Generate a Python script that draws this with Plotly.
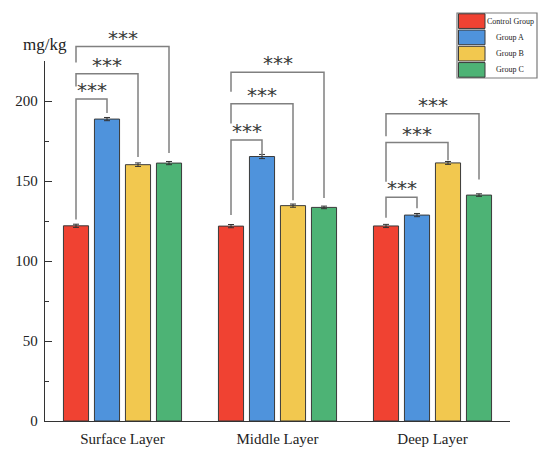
import plotly.graph_objects as go

# ---- data ----
layers = ["Surface Layer", "Middle Layer", "Deep Layer"]
groups = ["Control Group", "Group A", "Group B", "Group C"]
control = [122.0, 121.8, 121.9]
group_a = [188.7, 165.3, 128.7]
group_b = [160.2, 134.6, 161.3]
group_c = [161.2, 133.5, 141.2]
err_control = [1.0, 1.0, 1.0]
err_a = [1.0, 1.3, 1.0]
err_b = [1.1, 1.0, 0.9]
err_c = [1.0, 0.8, 0.8]
sig_labels = ["***", "***", "***"]

# bracket geometry (data units): [top, left-leg bottom, right-leg bottom] per comparison
brackets = {
    0: [(201.3, 126.0, 192.5), (217.0, 209.0, 165.0), (234.0, 224.0, 167.5)],
    1: [(175.6, 128.8, 166.0), (198.3, 186.0, 138.0), (217.9, 205.8, 139.4)],
    2: [(139.8, 127.0, 133.0), (174.0, 149.5, 163.0), (192.0, 178.0, 151.0)],
}

colors = ["#F04232", "#4F93DC", "#F2C84F", "#4DB375"]
series = [control, group_a, group_b, group_c]
errors = [err_control, err_a, err_b, err_c]

YMAX = 225
BARGAP = 0.2
W, H = 550, 453
ML, MR, MT, MB = 45, 40, 61, 32
PW, PH = W - ML - MR, H - MT - MB

fig = go.Figure()
for name, vals, errs, col in zip(groups, series, errors, colors):
    fig.add_trace(go.Bar(
        x=layers, y=vals, name=name,
        marker=dict(color=col, line=dict(color="#3a3a3a", width=1)),
        error_y=dict(type="data", array=errs, color="#333333", thickness=1, width=3),
        showlegend=False,
    ))

slot = (1 - BARGAP) / len(groups)
def xoff(k):
    return (k - (len(groups) - 1) / 2) * slot

def py(v):
    return v / YMAX

def px_x(p):
    return (p - ML) / PW
def px_y(p):
    return (H - MB - p) / PH

shapes = []
annotations = []
line_style = dict(color="#808080", width=1.5)
for i in range(len(layers)):
    xl = i + xoff(0)
    for j, (top, lb, rb) in enumerate(brackets[i]):
        xr = i + xoff(j + 1)
        shapes.append(dict(type="path", xref="x", yref="paper",
                           path=f"M {xl},{py(lb)} L {xl},{py(top)} L {xr},{py(top)} L {xr},{py(rb)}",
                           line=line_style, layer="above"))
        annotations.append(dict(x=(xl + xr) / 2, y=py(top), xref="x", yref="paper",
                                text=sig_labels[j], showarrow=False, yanchor="bottom",
                                yshift=-5,
                                font=dict(family="DejaVu Sans", size=20, color="#3a3a3a")))

# unit label
annotations.append(dict(x=px_x(45), y=px_y(45), xref="paper", yref="paper",
                        text="mg/kg", showarrow=False, xanchor="center", yanchor="middle",
                        font=dict(family="Liberation Serif", size=17, color="#222222")))

# manual legend
lx0, lx1, ly0, ly1 = 457, 537, 13, 78
shapes.append(dict(type="rect", xref="paper", yref="paper",
                   x0=px_x(lx0), x1=px_x(lx1), y0=px_y(ly1), y1=px_y(ly0),
                   line=dict(color="#7a7a7a", width=1.2), fillcolor="white", layer="above"))
rh = (ly1 - ly0) / len(groups)
for k, (name, col) in enumerate(zip(groups, colors)):
    t = ly0 + k * rh + 0.8
    b = ly0 + (k + 1) * rh - 0.8
    shapes.append(dict(type="rect", xref="paper", yref="paper",
                       x0=px_x(458.5), x1=px_x(485), y0=px_y(b), y1=px_y(t),
                       line=dict(color="#3a3a3a", width=1), fillcolor=col, layer="above"))
    annotations.append(dict(x=px_x(510.5), y=px_y((t + b) / 2), xref="paper", yref="paper",
                            text=name, showarrow=False, xanchor="center", yanchor="middle",
                            font=dict(family="Liberation Serif", size=8, color="#222222")))

fig.update_layout(
    width=W, height=H,
    margin=dict(l=ML, r=MR, t=MT, b=MB, pad=0, autoexpand=False),
    paper_bgcolor="white", plot_bgcolor="white",
    barmode="group", bargap=BARGAP, bargroupgap=0.19,
    shapes=shapes, annotations=annotations,
    xaxis=dict(showline=True, linecolor="#333333", linewidth=1.3, ticks="",
               showgrid=False, zeroline=False, ticklabelstandoff=4, automargin=False,
               tickfont=dict(family="Liberation Serif", size=15, color="#222222")),
    yaxis=dict(range=[0, YMAX], dtick=50, tick0=0, showline=True, linecolor="#333333",
               linewidth=1.3, ticks="inside", ticklen=7, tickwidth=1.3, tickcolor="#333333",
               minor=dict(dtick=25, ticks="inside", ticklen=4, tickwidth=1.3, tickcolor="#333333"),
               showgrid=False, zeroline=False, ticklabelstandoff=3, automargin=False,
               tickfont=dict(family="Liberation Serif", size=15, color="#222222")),
)

fig.write_html("out.html", config={"displayModeBar": False},
               post_script="document.body.style.margin='0px';document.body.style.overflow='hidden';")
